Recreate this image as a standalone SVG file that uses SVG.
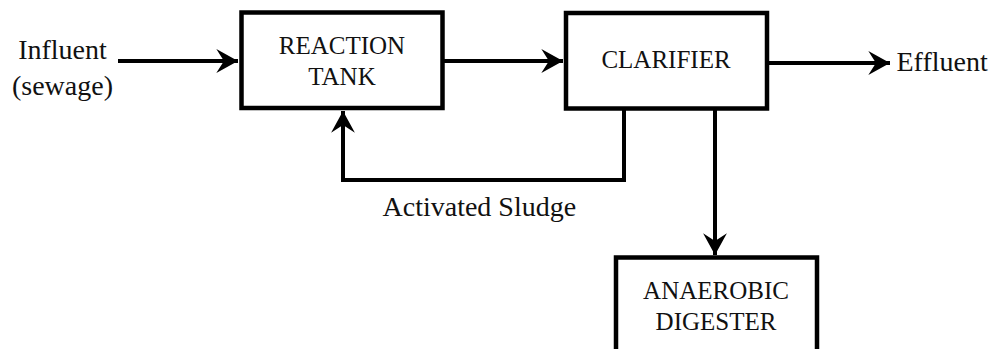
<svg xmlns="http://www.w3.org/2000/svg" width="995" height="349" viewBox="0 0 995 349">
<defs>
<style>
.box{fill:#fff;stroke:#000;stroke-width:4.5}
.conn{fill:none;stroke:#000;stroke-width:4}
text{fill:#111;text-anchor:middle}
.box-t{font-size:25px;font-family:Liberation Serif,serif}
.side{font-size:28px}
</style>
<marker id="ah" markerUnits="userSpaceOnUse" markerWidth="24" markerHeight="26" viewBox="-21 -12 22 24" refX="0" refY="0" orient="auto">
<path d="M0,0 L-20,-11 L-13,0 L-20,11 Z" fill="#000"/>
</marker>
</defs>
<rect width="995" height="349" fill="#fff"/>
<g id="connectors">
<line class="conn" x1="118" y1="61" x2="238" y2="61" marker-end="url(#ah)"/>
<line class="conn" x1="443" y1="61" x2="563" y2="61" marker-end="url(#ah)"/>
<line class="conn" x1="767" y1="63" x2="890" y2="63" marker-end="url(#ah)"/>
<polyline class="conn" points="624,108 624,180 343,180 343,111" marker-end="url(#ah)"/>
<line class="conn" x1="715" y1="108" x2="715" y2="255" marker-end="url(#ah)"/>
</g>
<g id="reaction-tank">
<rect class="box" x="241.5" y="12.5" width="201" height="95.5"/>
<text class="box-t" x="342" y="54">REACTION</text>
<text class="box-t" x="342" y="85">TANK</text>
</g>
<g id="clarifier">
<rect class="box" x="566" y="13" width="201" height="95.5"/>
<text class="box-t" x="666" y="68">CLARIFIER</text>
</g>
<g id="anaerobic-digester">
<rect class="box" x="616" y="257.5" width="201" height="120"/>
<text class="box-t" x="716" y="299">ANAEROBIC</text>
<text class="box-t" x="716" y="330">DIGESTER</text>
</g>
<g id="influent">
<text class="side" font-family="Liberation Serif, serif" x="62.5" y="58.5">Influent</text>
<text class="side" font-family="Liberation Serif, serif" x="62.5" y="95">(sewage)</text>
</g>
<g id="effluent">
<text class="side" font-family="Liberation Serif, serif" x="896.5" y="71" style="text-anchor:start">Effluent</text>
</g>
<g id="activated-sludge">
<text class="side" font-family="Liberation Serif, serif" x="382.5" y="216" style="text-anchor:start">Activated Sludge</text>
</g>
</svg>
